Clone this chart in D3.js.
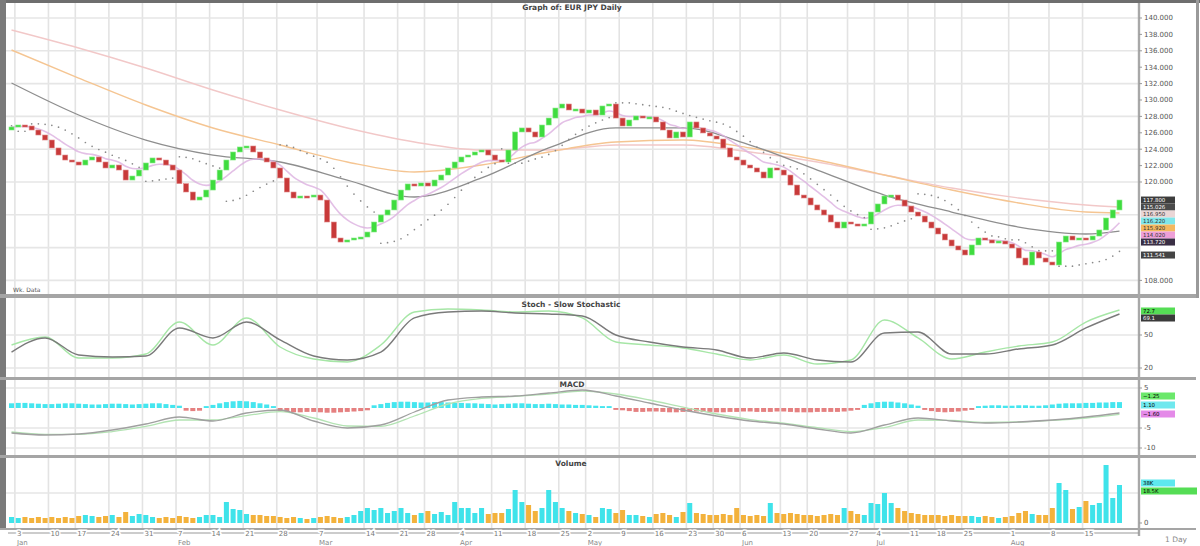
<!DOCTYPE html>
<html><head><meta charset="utf-8">
<script src="https://cdn.jsdelivr.net/npm/d3@7"></script>
<style>
html,body{margin:0;padding:0;background:#fff;}
svg{display:block;font-family:"DejaVu Sans",Arial,sans-serif;}
</style></head><body>
<svg id="c" width="1200" height="546"></svg>
<script>
// ---------------- DATA ----------------
const title = "Graph of: EUR JPY Daily";
const firstOpen = 126.34;
const closes = [126.71,126.95,126.83,126.34,125.73,125.12,124.15,123.29,122.68,122.44,
122.07,122.68,123.05,122.44,121.71,122.07,121.46,120.24,120.73,121.46,
122.32,122.93,122.68,122.07,121.46,119.80,118.78,117.80,118.17,119.02,
120.24,121.46,122.68,123.66,124.27,124.39,123.66,122.93,122.44,121.71,
120.49,118.78,118.05,118.29,118.17,118.41,117.80,115.12,113.17,112.68,
112.93,113.17,113.29,113.90,115.12,115.98,116.59,117.80,119.02,119.76,
119.51,119.88,119.51,120.24,120.85,121.71,122.44,123.05,123.29,123.66,
123.90,123.29,122.68,122.44,123.90,126.10,126.59,126.10,125.49,126.95,
127.80,129.02,129.51,128.78,128.90,128.41,128.78,128.17,129.27,129.51,
127.80,126.83,127.56,128.05,127.80,127.93,127.32,126.34,125.37,126.10,
125.49,127.32,126.59,125.98,125.61,125.24,124.15,123.05,122.68,122.07,
121.71,121.22,120.49,121.71,121.46,120.85,119.63,118.41,118.05,117.20,
116.59,115.98,115.12,114.39,115.12,114.88,114.63,114.88,116.34,117.32,
118.29,118.41,117.80,117.07,116.34,115.85,115.12,114.39,113.66,112.93,
112.20,111.71,111.10,112.32,113.17,112.93,112.56,112.80,112.44,111.95,
110.73,109.88,111.46,110.73,110.24,109.88,112.68,113.41,112.93,113.17,
112.93,113.41,114.15,115.61,116.59,117.80];
const volumes = [6,5,6,5,6,5,6,5,6,5,
7,8,7,6,7,8,6,11,7,9,
8,6,5,6,5,7,6,5,6,8,
8,6,21,14,13,9,8,8,7,7,
6,5,6,5,4,5,6,7,6,5,
6,8,12,15,13,15,10,12,15,10,
8,10,12,9,11,8,21,15,15,10,
15,9,10,10,14,33,21,18,12,15,
33,21,15,12,10,9,8,6,15,14,
10,13,8,8,7,6,9,10,8,6,
11,20,10,9,8,8,9,8,15,8,
7,8,7,20,10,9,10,9,8,8,
7,8,9,8,15,12,9,8,20,19,
30,20,15,12,10,9,8,8,8,7,
8,7,7,7,6,7,6,5,6,7,
10,12,9,8,8,15,40,33,14,16,
22,18,20,58,25,38];
// moving averages sampled every 10 bars
const maIdx = [0,10,20,30,40,50,60,70,80,90,100,110,120,130,140,150,160,165];
const maGray = [132.07,128.17,125.12,123.29,122.44,120.24,118.17,120.49,124.15,126.59,126.59,124.51,121.46,118.41,116.34,114.51,113.66,114.02];
const maOrange = [136.10,132.68,129.39,126.59,124.51,122.44,121.22,122.07,123.66,124.88,125.12,124.15,122.68,120.85,119.02,117.44,116.34,116.22];
const maPink = [138.54,136.34,133.90,131.22,128.78,126.59,124.88,123.90,123.90,124.51,124.51,123.66,122.44,120.85,119.27,118.05,117.20,116.95];
// oscillators sampled every 5 bars
const oscIdx = [0,5,10,15,20,25,30,35,40,45,50,55,60,65,70,75,80,85,90,95,100,105,110,115,120,125,130,135,140,145,150,155,160,165];
const stochSlow = [34.5,47.3,31.8,30.0,30.9,56.4,47.3,61.8,45.5,30.9,27.3,34.5,65.5,70.9,71.8,70.0,69.1,67.3,50.0,43.6,39.1,36.4,29.1,33.6,27.3,25.5,51.8,52.7,32.7,32.7,37.3,40.9,56.4,69.1];
const stochFast = [40.9,48.2,29.1,29.1,32.7,61.8,40.9,65.5,39.1,28.2,25.5,40.9,70.9,73.6,72.7,70.9,71.8,65.5,43.6,40.9,38.2,32.7,27.3,31.8,23.6,27.3,63.6,47.3,28.2,34.5,40.0,43.6,61.8,72.7];
const macdLine = [-6.25,-6.75,-6.5,-5.5,-4,-2.25,-3.25,-1.25,-0.5,-3.25,-5,-4.25,-1,2,2.75,3,3.75,4.5,3,1.25,-0.5,-2,-3.25,-4,-5.25,-6.25,-4.25,-2.5,-3.25,-3.75,-3.5,-3,-2.25,-1.25];
const macdSignal = [-6.0,-6.6,-6.6,-5.9,-4.6,-3.0,-3.0,-1.9,-0.9,-2.5,-4.5,-4.6,-2.0,1.0,2.4,2.9,3.5,4.2,3.5,2.0,0.2,-1.5,-2.9,-3.8,-4.9,-5.9,-4.9,-3.0,-3.1,-3.6,-3.5,-3.1,-2.5,-1.6];
const macdHist = [0.8,0.9,0.9,0.8,0.7,0.6,0.6,0.7,0.8,0.8,0.7,0.6,0.5,0.5,0.6,0.7,0.7,0.6,0.5,0.6,0.7,0.8,0.8,0.6,0.4,0.2,
-0.3,-0.4,-0.3,
0.1,0.4,
0.8,1.1,1.3,1.4,1.3,1.1,0.8,0.5,
0.1,
-0.4,-0.6,-0.7,-0.7,-0.6,-0.6,-0.7,-0.8,-0.8,-0.7,-0.6,-0.5,-0.4,-0.2,
0.3,0.6,0.9,1.1,1.2,1.2,1.1,1.0,1.0,1.1,1.1,1.0,0.9,0.9,0.8,0.8,0.7,0.6,0.5,0.6,0.7,0.8,0.8,0.7,0.6,0.6,0.7,0.6,0.5,0.5,0.4,0.4,0.3,
0.2,0.1,0.1,-0.1,-0.2,
-0.4,-0.6,-0.6,-0.5,-0.5,-0.6,-0.7,-0.7,-0.6,-0.5,-0.5,-0.6,-0.6,-0.7,-0.7,-0.6,-0.6,-0.5,-0.5,-0.6,-0.6,-0.6,-0.5,-0.5,-0.6,-0.7,-0.7,-0.7,-0.6,-0.6,-0.6,-0.6,-0.5,-0.3,-0.1,
0.4,0.8,1.1,1.2,1.2,1.0,0.8,0.5,0.2,
-0.1,
-0.4,-0.6,-0.7,-0.6,-0.5,-0.3,
-0.1,0.1,
0.2,0.3,0.3,0.2,0.2,0.3,0.3,0.2,0.2,
0.3,
0.5,0.7,0.8,0.8,0.8,0.9,0.9,1.0,1.0,1.1,1.1];
const priceTicks = [108,110,112,114,116,118,120,122,124,126,128,130,132,134,136,138,140];
const stochTicks = [20,50];
const macdTicks = [-10,-5,0,5];
const volTicks = [0,30];
const weekTicks = [1,6,10,15,20,25,30,35,40,46,53,58,62,67,72,77,82,86,91,96,101,105,109,115,119,125,129,134,138,142,149,155,160];
const weekLabels = ["3","10","17","24","31","7","14","21","28","7","14","21","28","4","11","18","25","2","9","16","23","30","6","13","20","27","4","11","18","25","1","8","15"];
const monthTicks = [1,25,46,67,86,109,129,149];
const monthLabels = ["Jan","Feb","Mar","Apr","May","Jun","Jul","Aug"];

// ---------------- LAYOUT ----------------
const svg = d3.select('#c');
const AXX = 1139;
const P = {
  price:{t:3,b:294}, stoch:{t:298,b:377}, macd:{t:380,b:455}, vol:{t:458,b:528}
};
const n = closes.length;
const opens = closes.map((c,i)=> i===0 ? firstOpen : closes[i-1]);
const x = d3.scaleBand().domain(d3.range(n)).range([9,1122]).paddingInner(0.25).paddingOuter(0);
const cx = i => x(i) + x.bandwidth()/2;
const gridX = i => x(i) - x.step()*0.125;

const yP = d3.scaleLinear().domain([108,140]).range([280.4,18]);
const yS = d3.scaleLinear().domain([0,100]).range([390,280]);
const yM = d3.scaleLinear().domain([-10,5]).range([448,388]);
const yV = d3.scaleLinear().domain([0,30]).range([523,493]);

svg.append('rect').attr('width',1200).attr('height',546).attr('fill','#fff');

const defs = svg.append('defs');
Object.entries(P).forEach(([k,p])=>{
  defs.append('clipPath').attr('id','clip-'+k).append('rect')
    .attr('x',6).attr('y',p.t).attr('width',AXX-6).attr('height',p.b-p.t);
});

// grids
const grid = svg.append('g');
Object.values(P).forEach(p=>{
  grid.selectAll(null).data(weekTicks).join('line')
    .attr('x1',d=>gridX(d)).attr('x2',d=>gridX(d)).attr('y1',p.t).attr('y2',p.b)
    .attr('stroke','#e3e3e3').attr('stroke-width',1.6);
});
const hgrid = (vals,scale)=> grid.selectAll(null).data(vals).join('line')
  .attr('x1',6).attr('x2',AXX).attr('y1',d=>scale(d)).attr('y2',d=>scale(d))
  .attr('stroke','#e6e6e6').attr('stroke-width',1.6);
hgrid(priceTicks.filter(v=>v%4===0), yP);
hgrid(stochTicks, yS);
hgrid([-10,-5,5], yM);
hgrid([30], yV);

// ---------------- PRICE PANEL ----------------
const gP = svg.append('g').attr('clip-path','url(#clip-price)');
const lineIdx = (idx, scale) => d3.line().x((d,k)=>cx(idx[k])).y(d=>scale(d)).curve(d3.curveMonotoneX);

gP.append('path').datum(maPink).attr('d',lineIdx(maIdx,yP)).attr('fill','none').attr('stroke','#f2c8c8').attr('stroke-width',1.4);
gP.append('path').datum(maOrange).attr('d',lineIdx(maIdx,yP)).attr('fill','none').attr('stroke','#f5c592').attr('stroke-width',1.4);
gP.append('path').datum(maGray).attr('d',lineIdx(maIdx,yP)).attr('fill','none').attr('stroke','#8e8e8e').attr('stroke-width',1.3);

// EMA of closes
const ema = []; const k10 = 2/(8+1);
closes.forEach((c,i)=>{ ema.push(i===0 ? c : ema[i-1] + k10*(c-ema[i-1])); });
gP.append('path').datum(ema).attr('d',d3.line().x((d,i)=>cx(i)).y(d=>yP(d)).curve(d3.curveMonotoneX))
  .attr('fill','none').attr('stroke','#dcb0e0').attr('stroke-width',1.6).attr('opacity',0.8);

// parabolic SAR from bodies
const highs = closes.map((c,i)=>Math.max(c,opens[i])+0.15);
const lows = closes.map((c,i)=>Math.min(c,opens[i])-0.15);
function psar(h,l,step=0.02,max=0.2){
  const out=[]; let up=false, af=step, ep=l[0], s=h[0]; out.push(s);
  for(let i=1;i<h.length;i++){
    s = s + af*(ep-s);
    if(up){
      s = Math.min(s, l[i-1], i>1?l[i-2]:l[i-1]);
      if(l[i]<s){ up=false; s=ep; ep=l[i]; af=step; }
      else if(h[i]>ep){ ep=h[i]; af=Math.min(af+step,max); }
    } else {
      s = Math.max(s, h[i-1], i>1?h[i-2]:h[i-1]);
      if(h[i]>s){ up=true; s=ep; ep=h[i]; af=step; }
      else if(l[i]<ep){ ep=l[i]; af=Math.min(af+step,max); }
    }
    out.push(s);
  }
  return out;
}
const sar = psar(highs,lows);
gP.selectAll('circle.sar').data(sar).join('circle').attr('class','sar')
  .attr('cx',(d,i)=>cx(i)).attr('cy',d=>yP(d)).attr('r',0.85).attr('fill','#8a8a8a');

// candles
gP.selectAll('rect.c').data(closes).join('rect').attr('class','c')
  .attr('x',(d,i)=>x(i)).attr('width',x.bandwidth())
  .attr('y',(d,i)=>yP(Math.max(d,opens[i])))
  .attr('height',(d,i)=>Math.max(2,Math.abs(yP(d)-yP(opens[i]))))
  .attr('fill',(d,i)=> d>=opens[i] ? '#3fdc3f' : '#c83a3a')
  .attr('stroke',(d,i)=> d>=opens[i] ? '#8aea8a' : '#e08a8a').attr('stroke-width',0.6);

// ---------------- STOCH PANEL ----------------
const gS = svg.append('g').attr('clip-path','url(#clip-stoch)');
gS.append('path').datum(stochFast).attr('d',lineIdx(oscIdx,yS)).attr('fill','none').attr('stroke','#a6e6a6').attr('stroke-width',1.4);
gS.append('path').datum(stochSlow).attr('d',lineIdx(oscIdx,yS)).attr('fill','none').attr('stroke','#7a7a7a').attr('stroke-width',1.4);

// ---------------- MACD PANEL ----------------
const gM = svg.append('g').attr('clip-path','url(#clip-macd)');
gM.selectAll('rect.h').data(macdHist).join('rect').attr('class','h')
  .attr('x',(d,i)=>x(i)).attr('width',x.bandwidth())
  .attr('y',d=> d>=0 ? yM(d)-1.5 : yM(0))
  .attr('height',d=> Math.abs(yM(d)-yM(0))+1.5)
  .attr('fill',d=> d>=0 ? '#45e6ef' : '#e58080');
gM.append('path').datum(macdSignal).attr('d',lineIdx(oscIdx,yM)).attr('fill','none').attr('stroke','#b3e3b3').attr('stroke-width',1.3);
gM.append('path').datum(macdLine).attr('d',lineIdx(oscIdx,yM)).attr('fill','none').attr('stroke','#a0a0a0').attr('stroke-width',1.3);

// ---------------- VOLUME PANEL ----------------
const gV = svg.append('g').attr('clip-path','url(#clip-vol)');
gV.selectAll('rect.v').data(volumes).join('rect').attr('class','v')
  .attr('x',(d,i)=>x(i)).attr('width',x.bandwidth())
  .attr('y',d=>yV(d)).attr('height',d=>yV(0)-yV(d))
  .attr('fill',(d,i)=> closes[i]>=opens[i] ? '#3fe3ea' : '#f3b23c');

// ---------------- FRAMES ----------------
const fr = svg.append('g');
fr.append('rect').attr('x',0).attr('y',0).attr('width',1200).attr('height',3).attr('fill','#6e6e6e');
fr.append('rect').attr('x',0).attr('y',0).attr('width',6).attr('height',530).attr('fill','#7a7a7a');
[[294,4],[377,3],[455,3],[528,2]].forEach(([y,h])=>{
  fr.append('rect').attr('x',0).attr('y',y).attr('width',1196).attr('height',h).attr('fill','#a5a5a5');
});
fr.append('rect').attr('x',1196).attr('y',0).attr('width',3).attr('height',298).attr('fill','#9a9a9a');
fr.append('line').attr('x1',AXX).attr('x2',AXX).attr('y1',3).attr('y2',536).attr('stroke','#a8a8a8').attr('stroke-width',2.4);

// ---------------- AXES LABELS ----------------
const lab = svg.append('g').attr('font-size',7).attr('fill','#555');
function rightLabels(vals, scale, fmt){
  vals.forEach(v=>{
    lab.append('line').attr('x1',AXX).attr('x2',AXX+3).attr('y1',scale(v)).attr('y2',scale(v)).attr('stroke','#999');
    lab.append('text').attr('x',AXX+5).attr('y',scale(v)).attr('dy','0.35em').text(fmt(v));
  });
}
// price labels not hidden by the value tags
rightLabels(priceTicks.filter(v=> v>119 || v<110), yP, d3.format('.3f'));
rightLabels(stochTicks, yS, d=>d);
rightLabels([-10,-5,5], yM, d=>d);
rightLabels([0], yV, d=>d);

// value tags
function tag(y, text, bg, fg, w=34){
  const g = svg.append('g');
  g.append('rect').attr('x',AXX+2).attr('y',y-3.5).attr('width',w).attr('height',7).attr('fill',bg);
  g.append('text').attr('x',AXX+4).attr('y',y).attr('dy','0.35em').attr('font-size',5.4).attr('fill',fg).text(text);
}
const last = n-1;
const ptags = [
  {v:closes[last], bg:'#3d3d3d', fg:'#fff'},
  {v:ema[last], bg:'#4a4a4a', fg:'#fff'},
  {v:maPink[maPink.length-1], bg:'#ead6d6', fg:'#333'},
  {v:maOrange[maOrange.length-1], bg:'#7fe6ea', fg:'#333'},
  {v:maOrange[maOrange.length-1]-0.3, bg:'#f4b860', fg:'#333'},
  {v:maGray[maGray.length-1], bg:'#ee9fd8', fg:'#333'},
  {v:maGray[maGray.length-1]-0.3, bg:'#3a2f45', fg:'#fff'}
];
// stacked contiguously below the close tag
const y0 = yP(closes[last]);
ptags.forEach((t,i)=> tag(y0 + i*7, d3.format('.3f')(t.v), t.bg, t.fg));
tag(Math.max(yP(sar[last]), y0 + ptags.length*7 + 6), d3.format('.3f')(sar[last]), '#444', '#fff');

tag(311, d3.format('.1f')(stochFast[stochFast.length-1]), '#55dd55', '#000');
tag(318, d3.format('.1f')(stochSlow[stochSlow.length-1]), '#3a3a3a', '#fff');
tag(396, d3.format('.2f')(macdLine[macdLine.length-1]), '#6be86b', '#000');
tag(405, d3.format('.2f')(macdHist[last]), '#6fe8ee', '#000');
tag(414, d3.format('.2f')(macdSignal[macdSignal.length-1]), '#e48ae8', '#000');
tag(483, volumes[last]+'K', '#5ee8ee', '#000', 34);
tag(491, d3.format('.1f')(d3.mean(volumes.slice(-20)))+'K', '#55dd55', '#000', 56);

// titles
const tt = svg.append('g').attr('font-size',7.5).attr('font-weight','bold').attr('fill','#444').attr('text-anchor','middle');
tt.append('text').attr('x',572).attr('y',10).text(title);
tt.append('text').attr('x',571).attr('y',307).text('Stoch - Slow Stochastic');
tt.append('text').attr('x',572).attr('y',387).text('MACD');
tt.append('text').attr('x',571).attr('y',466).text('Volume');
svg.append('text').attr('x',13).attr('y',292).attr('font-size',6).attr('fill','#555').text('Wk. Data');

// x axis
const xa = svg.append('g');
xa.append('line').attr('x1',8).attr('x2',AXX).attr('y1',533).attr('y2',533).attr('stroke','#999').attr('stroke-width',1);
xa.selectAll('text.w').data(weekTicks).join('text').attr('class','w')
  .attr('x',d=>gridX(d)+2).attr('y',536).attr('font-size',7).attr('fill','#777')
  .attr('stroke','#fff').attr('stroke-width',3).attr('paint-order','stroke')
  .text((d,i)=>weekLabels[i]);
xa.selectAll('text.m').data(monthTicks).join('text').attr('class','m')
  .attr('x',d=>gridX(d)+2).attr('y',545).attr('font-size',7).attr('fill','#888')
  .text((d,i)=>monthLabels[i]);
svg.append('text').attr('x',1176).attr('y',542).attr('font-size',7.5).attr('fill','#888').attr('text-anchor','middle').text('1 Day');
</script>
</body></html>
